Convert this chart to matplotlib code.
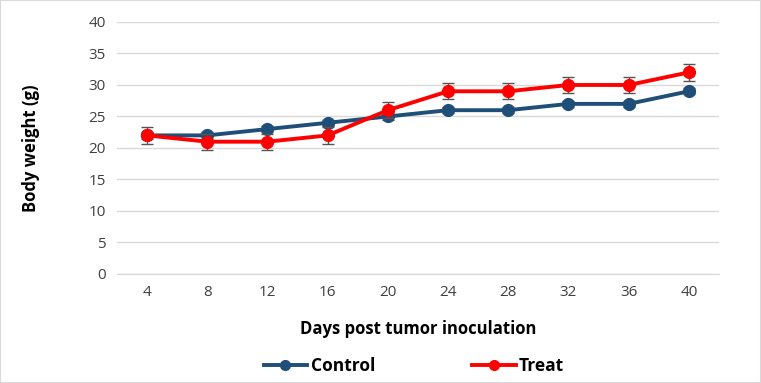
import numpy as np
import matplotlib
matplotlib.use("Agg")
import matplotlib.pyplot as plt
from matplotlib.patches import Rectangle
from matplotlib.lines import Line2D

# dane
days = [4, 8, 12, 16, 20, 24, 28, 32, 36, 40]
control = [22, 22, 23, 24, 25, 26, 26, 27, 27, 29]
control_err = [0.5, 0.5, 0.5, 0.5, 0.5, 0.5, 0.5, 0.5, 0.5, 0.5]
treat = [22, 21, 21, 22, 26, 29, 29, 30, 30, 32]
treat_err = [1.3, 1.3, 1.3, 1.3, 1.3, 1.3, 1.3, 1.3, 1.3, 1.3]

plt.rcParams['font.family'] = ['Open Sans', 'DejaVu Sans']

fig = plt.figure(figsize=(7.61, 3.83), dpi=100)
ax = fig.add_axes([0.1537, 0.2846, 0.7911, 0.658])

x = np.arange(len(days))
ax.errorbar(x, control, yerr=control_err, color='#1F4E79', lw=2.8, marker='o',
            ms=8.5, ecolor='#555555', elinewidth=1, capsize=4, capthick=1, zorder=3)
ax.errorbar(x, treat, yerr=treat_err, color='#FF0000', lw=2.8, marker='o',
            ms=8.5, ecolor='#555555', elinewidth=1, capsize=4, capthick=1, zorder=4)

ax.set_xlim(-0.5, len(days) - 0.5)
ax.set_ylim(0, 40)
ax.set_yticks(range(0, 41, 5))
ax.set_xticks(x)
ax.set_xticklabels([str(d) for d in days])
ax.grid(axis='y', color='#D9D9D9', lw=1)
ax.set_axisbelow(True)
for s in ['top', 'right', 'left']:
    ax.spines[s].set_visible(False)
ax.spines['bottom'].set_color('#D9D9D9')
ax.tick_params(axis='both', length=0, labelsize=11, colors='#404040', pad=8)

ax.set_xlabel('Days post tumor inoculation', fontsize=12, fontweight='bold')
ax.xaxis.set_label_coords(0.5, -0.182)
ax.set_ylabel('Body weight (g)', fontsize=12, fontweight='bold')
ax.yaxis.set_label_coords(-0.128, 0.5)

handles = [Line2D([], [], color='#1F4E79', lw=2.8, marker='o', ms=7),
           Line2D([], [], color='#FF0000', lw=2.8, marker='o', ms=7)]
leg = fig.legend(handles, ['Control', 'Treat'], loc='center', bbox_to_anchor=(0.544, 0.045),
                 ncol=2, frameon=False, prop={'size': 12.5, 'weight': 'bold'},
                 columnspacing=5.6, handlelength=2.5, handletextpad=0.2)

fig.patches.append(Rectangle((0, 0), 1, 1, transform=fig.transFigure, fill=False,
                             edgecolor='#D9D9D9', lw=1.5))

fig.savefig('out.png', dpi=100)
